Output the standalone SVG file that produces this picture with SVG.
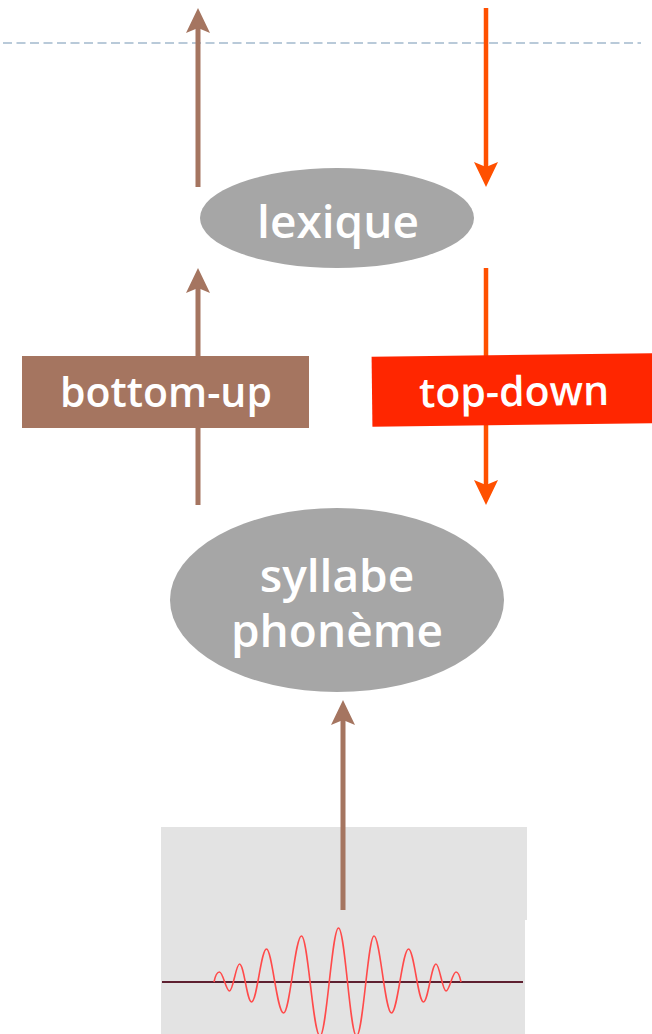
<svg xmlns="http://www.w3.org/2000/svg" width="652" height="1034" viewBox="0 0 652 1034">
  <style>
    .label { font-family: "Open Sans", "Noto Sans", "DejaVu Sans", sans-serif; font-weight: 600; fill: #ffffff; text-anchor: middle; }
    .big { font-size: 46px; }
    .box { font-size: 41px; }
    .up { stroke: #a57560; stroke-width: 5; fill: none; marker-end: url(#headUp); }
    .down { stroke: #ff5000; stroke-width: 4.5; fill: none; marker-end: url(#headDown); }
    .node { fill: #a6a6a6; }
  </style>
  <defs>
    <marker id="headUp" viewBox="0 -12 25 24" refX="5" refY="0" markerWidth="25" markerHeight="24" markerUnits="userSpaceOnUse" orient="auto">
      <path d="M0,-12 L25,0 L0,12 L5,0 Z" fill="#a57560"/>
    </marker>
    <marker id="headDown" viewBox="0 -12 25 24" refX="5" refY="0" markerWidth="25" markerHeight="24" markerUnits="userSpaceOnUse" orient="auto">
      <path d="M0,-12 L25,0 L0,12 L5,0 Z" fill="#ff5000"/>
    </marker>
  </defs>

  <rect width="652" height="1034" fill="#ffffff"/>

  <!-- dashed boundary -->
  <line x1="3" y1="43" x2="641" y2="43" stroke="#b9cad9" stroke-width="2" stroke-dasharray="9 4.5"/>

  <!-- signal panel -->
  <g id="signal">
    <path d="M161,827 H527 V920 H525 V1034 H161 Z" fill="#e3e3e3"/>
    <line x1="162" y1="982" x2="523" y2="982" stroke="#5e2030" stroke-width="2"/>
    <path fill="none" stroke="#ff4a4a" stroke-width="1.6"
      d="M214,982
         C215,977 217,972 219.5,972
         C223,972 226,991 229.5,991
         C233,991 236,964 239.5,964
         C244,964 247,1002 251.5,1002
         C257,1002 261,949 266.5,949
         C272,949 277,1013 283.5,1013
         C290,1013 295,936 301.5,936
         C308,936 313,1036 320,1036
         C326.5,1036 332,928 338.5,928
         C345,928 350,1036 356.5,1036
         C363,1036 368,936 374,936
         C380,936 385,1013 391.5,1013
         C397.5,1013 402.5,949 408.5,949
         C414,949 418,1002 423.5,1002
         C428,1002 431.5,964 436,964
         C439.5,964 442.5,991 446,991
         C449.5,991 452.5,972 456,972
         C458.5,972 460,977 461,982"/>
  </g>

  <!-- connectors -->
  <g id="connectors">
    <line class="up" x1="198" y1="187" x2="198" y2="28"/>
    <line class="down" x1="486" y1="8" x2="486" y2="167"/>
    <line class="up" x1="198" y1="505" x2="198" y2="288"/>
    <line class="down" x1="486" y1="268" x2="486" y2="485"/>
    <line class="up" x1="343" y1="910" x2="343" y2="720"/>
  </g>

  <g id="lexique">
    <ellipse class="node" cx="337" cy="218" rx="137" ry="50"/>
    <text class="label big" x="338" y="238">lexique</text>
  </g>

  <g id="bottom-up">
    <rect x="22" y="356" width="287" height="72" fill="#a57560"/>
    <text class="label box" x="166" y="407">bottom-up</text>
  </g>

  <g id="top-down" transform="rotate(-0.7 512 390)">
    <rect x="372" y="355" width="290" height="70" fill="#ff2600"/>
    <text class="label box" x="514" y="406">top-down</text>
  </g>

  <g id="syllabe">
    <ellipse class="node" cx="337" cy="600" rx="167" ry="92"/>
    <text class="label big" x="337" y="592">syllabe</text>
    <text class="label big" x="337" y="647">phonème</text>
  </g>
</svg>
